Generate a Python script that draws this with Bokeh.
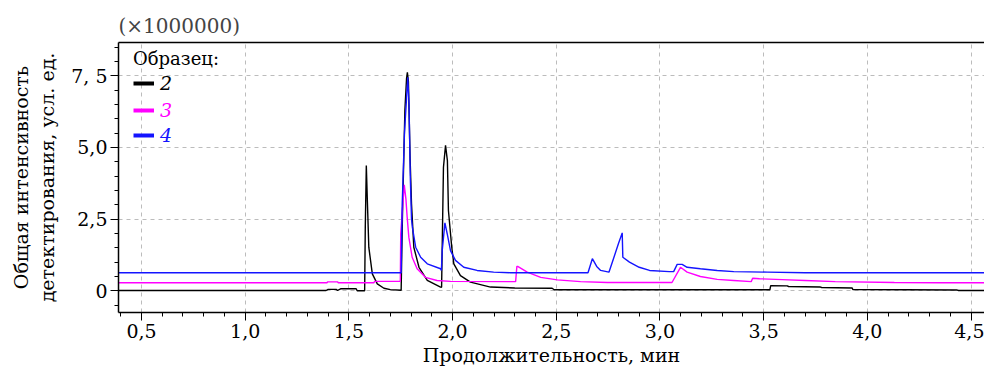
import numpy as np
from bokeh.plotting import figure
from bokeh.models import FixedTicker, Legend, LegendItem, LinearAxis, Range1d
from bokeh.embed import file_html
from bokeh.resources import INLINE

# ---------------- data ----------------
series_labels = ["2", "3", "4"]
series_colors = ["#000000", "#ff00ff", "#1414ff"]

# sample 2 (black)
t2 = [0.38, 1.39, 1.40, 1.44, 1.445, 1.46, 1.535, 1.54, 1.576, 1.579, 1.584, 1.589, 1.596,
      1.613, 1.637, 1.669, 1.70, 1.752, 1.758, 1.770, 1.778, 1.782, 1.787, 1.795, 1.802,
      1.813, 1.838, 1.878, 1.942, 1.947, 1.951, 1.956, 1.966, 1.975, 1.980, 1.996, 2.006,
      2.038, 2.086, 2.183, 2.30, 2.48, 2.49, 3.53, 3.534, 3.614, 3.62, 3.774, 3.78, 3.927,
      3.93, 4.43, 4.44, 4.58]
y2 = [0.01, 0.01, 0.05, 0.05, 0.01, 0.07, 0.07, 0.0, 0.0, 2.2, 4.37, 3.15, 1.52,
      0.59, 0.24, 0.09, 0.04, 0.02, 2.5, 6.3, 7.4, 7.62, 7.3, 4.66, 3.03,
      1.52, 0.82, 0.36, 0.13, 0.12, 2.0, 4.31, 5.07, 4.54, 2.8, 1.52, 0.94,
      0.53, 0.30, 0.13, 0.10, 0.09, 0.035, 0.035, 0.18, 0.17, 0.15, 0.13, 0.115, 0.10,
      0.045, 0.03, 0.01, 0.01]

# sample 3 (magenta)
t3 = [0.38, 1.395, 1.397, 1.446, 1.448, 1.62, 1.625, 1.748, 1.750, 1.760, 1.767, 1.775,
      1.781, 1.789, 1.805, 1.829, 1.869, 1.925, 1.99, 2.30, 2.304, 2.310, 2.314, 2.36,
      2.425, 2.505, 2.617, 2.746, 3.058, 3.099, 3.131, 3.195, 3.276, 3.356, 3.44, 3.447,
      3.48, 3.59, 3.70, 3.845, 4.13, 4.35, 4.58]
y3 = [0.28, 0.28, 0.31, 0.31, 0.28, 0.28, 0.33, 0.33, 2.0, 3.0, 3.7, 3.2,
      2.57, 1.87, 1.17, 0.77, 0.47, 0.36, 0.33, 0.32, 0.32, 0.85, 0.85, 0.65,
      0.47, 0.38, 0.32, 0.29, 0.29, 0.82, 0.65, 0.50, 0.40, 0.36, 0.32, 0.44,
      0.42, 0.39, 0.36, 0.32, 0.29, 0.28, 0.28]

# sample 4 (blue)
t4 = [0.38, 1.748, 1.752, 1.757, 1.768, 1.784, 1.790, 1.796, 1.802, 1.806, 1.822, 1.846,
      1.878, 1.942, 1.946, 1.950, 1.963, 1.974, 1.990, 2.014, 2.054, 2.118, 2.198, 2.279,
      2.653, 2.674, 2.695, 2.714, 2.754, 2.775, 2.80, 2.818, 2.821, 2.853, 2.90, 2.95,
      3.045, 3.066, 3.083, 3.107, 3.131, 3.195, 3.276, 3.356, 3.517, 3.70, 4.58]
y4 = [0.63, 0.63, 0.62, 3.0, 5.5, 7.45, 6.5, 4.0, 2.5, 2.22, 1.52, 1.17,
      0.94, 0.77, 0.71, 1.4, 2.37, 1.99, 1.4, 1.06, 0.82, 0.71, 0.65, 0.63,
      0.63, 1.12, 0.85, 0.71, 0.65, 1.1, 1.65, 2.02, 1.17, 1.0, 0.82, 0.71,
      0.67, 0.67, 0.92, 0.92, 0.82, 0.77, 0.71, 0.67, 0.65, 0.63, 0.63]

x_ticks = [0.5, 1.0, 1.5, 2.0, 2.5, 3.0, 3.5, 4.0, 4.5]
x_tick_labels = ["0,5", "1,0", "1,5", "2,0", "2,5", "3,0", "3,5", "4,0", "4,5"]
y_ticks = [0.0, 2.5, 5.0, 7.5]
y_tick_labels = ["0", "2,5", "5,0", "7, 5"]

FONT = "DejaVu Serif"
FS = "19px"

p = figure(width=984, height=369, output_backend="svg", toolbar_location=None,
           x_range=Range1d(0.389, 4.565), y_range=Range1d(-0.757, 8.66),
           min_border_left=118, min_border_right=0, min_border_top=42, min_border_bottom=57)

p.title.text = "(×1000000)"
p.title.text_font = FONT
p.title.text_font_size = "20px"
p.title.text_font_style = "normal"
p.title.align = "left"
p.title.standoff = 9

p.outline_line_color = None
p.background_fill_color = "white"

# axes
xa = p.xaxis[0]
xa.ticker = FixedTicker(ticks=x_ticks, minor_ticks=list(np.round(np.arange(0.4, 4.56, 0.1), 2)))
xa.major_label_overrides = dict(zip(x_ticks, x_tick_labels))
ya = p.yaxis[0]
ya.ticker = FixedTicker(ticks=y_ticks, minor_ticks=list(np.arange(-0.5, 8.6, 0.5)))
ya.major_label_overrides = dict(zip(y_ticks, y_tick_labels))

for ax in (xa, ya):
    ax.axis_line_color = "black"
    ax.axis_line_width = 1.5
    ax.major_tick_line_color = "black"
    ax.minor_tick_line_color = "black"
    ax.major_tick_out = 8
    ax.major_tick_in = 0
    ax.minor_tick_out = 4
    ax.minor_tick_in = 0
    ax.major_label_text_font = FONT
    ax.major_label_text_font_size = FS
    ax.major_label_text_color = "black"
    ax.axis_label_text_font = FONT
    ax.axis_label_text_font_size = FS
    ax.axis_label_text_font_style = "normal"
    ax.axis_label_text_color = "black"
    ax.major_label_standoff = 3
    ax.axis_label_standoff = 3

xa.axis_label = "Продолжительность, мин"
ya.axis_label = "Общая интенсивность\nдетектирования, усл. ед."
ya.axis_label_standoff = 10

top = LinearAxis(ticker=FixedTicker(ticks=[]), major_label_text_font_size="0px",
                 major_tick_line_color=None, minor_tick_line_color=None,
                 axis_line_color="black", axis_line_width=1.5)
p.add_layout(top, "above")

p.xgrid.grid_line_color = "#bcbcbc"
p.xgrid.grid_line_dash = "4 4"
p.ygrid.grid_line_color = "#bcbcbc"
p.ygrid.grid_line_dash = "4 4"

# lines
ts = [t2, t3, t4]
ys = [y2, y3, y4]
for t, y, c in zip(ts, ys, series_colors):
    p.line(t, y, line_color=c, line_width=1.4)

# legends (one per entry, so each label keeps its own colour)
locs = [(15, 218), (15, 191), (15, 166)]
for i, (lab, c) in enumerate(zip(series_labels, series_colors)):
    dummy = p.line(x=[np.nan, np.nan], y=[np.nan, np.nan], line_color=c, line_width=4)
    leg = Legend(items=[LegendItem(label=lab, renderers=[dummy])], location=locs[i])
    if i == 0:
        leg.title = "Образец:"
        leg.title_text_font = FONT
        leg.title_text_font_size = "18px"
        leg.title_text_font_style = "normal"
        leg.title_text_color = "black"
        leg.title_standoff = 3
    leg.label_text_font = FONT
    leg.label_text_font_size = FS
    leg.label_text_font_style = "italic"
    leg.label_text_color = c
    leg.glyph_width = 21
    leg.glyph_height = 12
    leg.label_standoff = 6
    leg.label_height = 20
    leg.padding = 0
    leg.margin = 0
    leg.spacing = 0
    leg.background_fill_alpha = 0
    leg.border_line_alpha = 0
    p.add_layout(leg)

open("out.html", "w").write(file_html(p, INLINE))
